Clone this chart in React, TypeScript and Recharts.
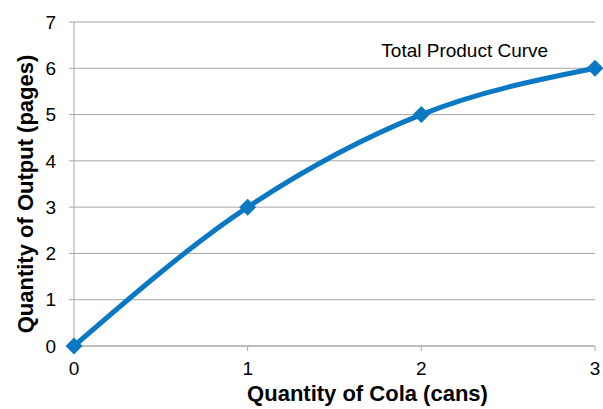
import React from 'react';
import { LineChart, Line, XAxis, YAxis, CartesianGrid, ReferenceDot } from 'recharts';

const colaCans = [0, 1, 2, 3];
const outputPages = [0, 3, 5, 6];
const xTicks = [0, 1, 2, 3];
const yTicks = [0, 1, 2, 3, 4, 5, 6, 7];
const curveLabel = 'Total Product Curve';

const data = colaCans.map((c, i) => ({ cans: c, pages: outputPages[i] }));

const BLUE = '#0b78c4';
const FONT = '"Liberation Sans", Arial, sans-serif';

const Diamond = (props: any) => {
  const { cx, cy } = props;
  if (cx == null || cy == null) return null;
  const s = 8.5;
  return (
    <path
      d={`M${cx},${cy - s} L${cx + s},${cy} L${cx},${cy + s} L${cx - s},${cy} Z`}
      fill={BLUE}
      stroke="none"
    />
  );
};

export default function App() {
  return (
    <div style={{ position: 'absolute', left: 0, top: 0, width: 603, height: 409, background: '#fff' }}>
      <LineChart
        width={603}
        height={409}
        data={data}
        margin={{ top: 22, right: 8, left: 0, bottom: 0 }}
        style={{ fontFamily: FONT }}
      >
        <CartesianGrid vertical={false} stroke="#a6a6a6" strokeWidth={1} />
        <XAxis
          dataKey="cans"
          type="number"
          domain={[0, 3]}
          ticks={xTicks}
          height={63}
          axisLine={{ stroke: '#a6a6a6' }}
          tickLine={{ stroke: '#a6a6a6' }}
          tickSize={5}
          tickMargin={11}
          tick={{ fill: '#000', fontSize: 19, fontFamily: FONT }}
          label={{
            value: 'Quantity of Cola (cans)',
            position: 'insideBottom',
            offset: 8,
            dx: 33,
            style: { fill: '#000', fontSize: 22, fontWeight: 'bold', fontFamily: FONT },
          }}
        />
        <YAxis
          type="number"
          domain={[0, 7]}
          ticks={yTicks}
          width={74}
          axisLine={{ stroke: '#a6a6a6' }}
          tickLine={{ stroke: '#a6a6a6' }}
          tickSize={5}
          tickMargin={13}
          tick={{ fill: '#000', fontSize: 19, fontFamily: FONT }}
          label={{
            value: 'Quantity of Output (pages)',
            angle: -90,
            position: 'insideLeft',
            offset: 25,
            dy: 10,
            style: { textAnchor: 'middle', fill: '#000', fontSize: 22, fontWeight: 'bold', fontFamily: FONT },
          }}
        />
        <Line
          type="monotone"
          dataKey="pages"
          stroke={BLUE}
          strokeWidth={5}
          dot={<Diamond />}
          activeDot={false}
          isAnimationActive={false}
        />
        <ReferenceDot
          x={2.25}
          y={6.4}
          r={0}
          fill="none"
          stroke="none"
          label={{ value: curveLabel, position: 'center', fill: '#000', fontSize: 19, fontFamily: FONT }}
        />
      </LineChart>
    </div>
  );
}
